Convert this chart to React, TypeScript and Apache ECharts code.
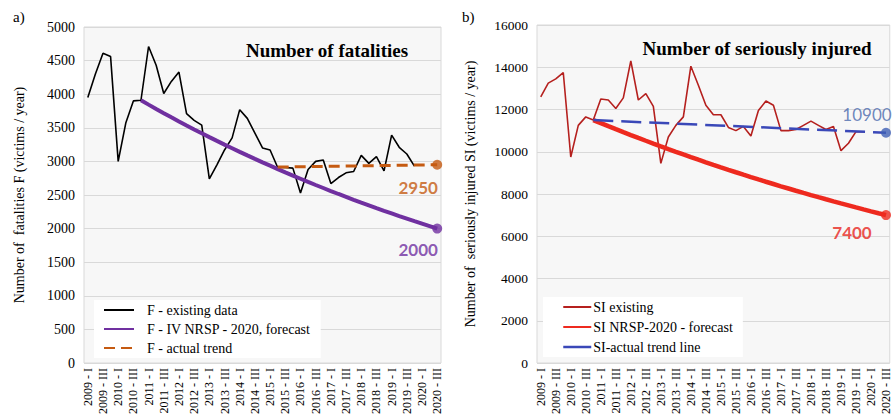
import { useEffect, useRef } from "react";
import * as echarts from "echarts";

const CATEGORIES = [
  "2009 - I", "2009 - II", "2009 - III", "2009 - IV",
  "2010 - I", "2010 - II", "2010 - III", "2010 - IV",
  "2011 - I", "2011 - II", "2011 - III", "2011 - IV",
  "2012 - I", "2012 - II", "2012 - III", "2012 - IV",
  "2013 - I", "2013 - II", "2013 - III", "2013 - IV",
  "2014 - I", "2014 - II", "2014 - III", "2014 - IV",
  "2015 - I", "2015 - II", "2015 - III", "2015 - IV",
  "2016 - I", "2016 - II", "2016 - III", "2016 - IV",
  "2017 - I", "2017 - II", "2017 - III", "2017 - IV",
  "2018 - I", "2018 - II", "2018 - III", "2018 - IV",
  "2019 - I", "2019 - II", "2019 - III", "2019 - IV",
  "2020 - I", "2020 - II", "2020 - III",
];

// Fatalities (from 2009 - I)
const F_EXISTING = [
  3950, 4300, 4610, 4560, 3000, 3570, 3900, 3910,
  4710, 4430, 4010, 4190, 4330, 3710, 3610, 3540,
  2740, 2950, 3170, 3350, 3770, 3640, 3420, 3200,
  3170, 2910, 2910, 2900, 2530, 2880, 3000, 3020,
  2670, 2760, 2830, 2850, 3090, 2970, 3070, 2860,
  3390, 3210, 3110, 2930,
];
// Forecast (from 2010 - IV)
const F_FORECAST_START = 7;
const F_FORECAST = [
  3910, 3845, 3781, 3718, 3656, 3595, 3535, 3476, 3418, 3361,
  3305, 3250, 3196, 3142, 3089, 3037, 2986, 2936, 2886, 2837,
  2789, 2742, 2695, 2649, 2604, 2559, 2515, 2472, 2429, 2387,
  2346, 2305, 2265, 2226, 2187, 2149, 2111, 2074, 2037, 2000,
];
const F_TREND = [["2015 - II", 2915], ["2020 - III", 2950]];
const F_END_FORECAST = [["2020 - III", 2000]];
const F_END_TREND = [["2020 - III", 2950]];
const F_TICKS = [0, 500, 1000, 1500, 2000, 2500, 3000, 3500, 4000, 4500, 5000];

// Seriously injured (from 2009 - I)
const SI_EXISTING = [
  12600, 13250, 13450, 13750, 9750, 11250, 11650, 11500,
  12500, 12450, 12050, 12550, 14300, 12450, 12750, 12150,
  9450, 10700, 11250, 11650, 14050, 13150, 12200, 11750,
  11750, 11150, 11000, 11200, 10750, 11950, 12400, 12200,
  11000, 11000, 11050, 11250, 11450, 11250, 11050, 11200,
  10050, 10400, 10950, 10950,
];
const SI_FORECAST_START = 7;
const SI_FORECAST = [
  11500, 11355, 11211, 11069, 10929, 10791, 10654, 10520, 10387, 10255,
  10125, 9997, 9871, 9746, 9623, 9501, 9381, 9262, 9145, 9029,
  8915, 8802, 8691, 8581, 8473, 8365, 8260, 8155, 8052, 7950,
  7849, 7750, 7652, 7555, 7460, 7365, 7272, 7180, 7089, 7000,
];
const SI_TREND = [["2010 - IV", 11500], ["2020 - III", 10900]];
const SI_END_FORECAST = [["2020 - III", 7000]];
const SI_END_TREND = [["2020 - III", 10900]];
const SI_TICKS = [0, 2000, 4000, 6000, 8000, 10000, 12000, 14000, 16000];

const F_AXIS_NAME = "Number of  fatalities F (victims / year)";
const SI_AXIS_NAME = "Number of  seriously injured SI (victims / year)";

const SERIF = "Liberation Serif";
const NUMFONT = "Lato";

const pad = (start: number, arr: number[]) =>
  (Array(start).fill(null) as (number | null)[]).concat(arr);

export default function App() {
  const ref = useRef<HTMLDivElement>(null);
  useEffect(() => {
    const chart = echarts.init(ref.current!, null, { renderer: "svg" });
    const xAxisBase = (gridIndex: number) => ({
      type: "category",
      gridIndex,
      data: CATEGORIES,
      boundaryGap: true,
      axisLine: { show: false },
      axisTick: { show: false },
      axisLabel: {
        rotate: 90,
        interval: 1,
        fontFamily: SERIF,
        fontSize: 12,
        color: "#000",
        margin: 5,
      },
      splitLine: { show: false },
    });
    const yAxisBase = (gridIndex: number, ticks: number[], name: string, gap: number, fs: number) => ({
      type: "value",
      gridIndex,
      min: ticks[0],
      max: ticks[ticks.length - 1],
      interval: ticks[1] - ticks[0],
      name,
      nameLocation: "middle",
      nameGap: gap,
      nameTextStyle: { fontFamily: SERIF, fontSize: 14, color: "#000" },
      axisLine: { show: false },
      axisTick: { show: false },
      axisLabel: {
        fontFamily: SERIF, fontSize: fs, color: "#000", margin: 9,
        formatter: (v: number) => String(v),
      },
      splitLine: { lineStyle: { color: "#d9d9d9", width: 1 } },
    });
    const option: any = {
      animation: false,
      backgroundColor: "#fff",
      textStyle: { fontFamily: SERIF },
      grid: [
        { left: 84, top: 27, width: 357, height: 336, show: true, backgroundColor: "#f7f7f7", borderColor: "#d9d9d9", borderWidth: 1 },
        { left: 537, top: 25, width: 353, height: 338, show: true, backgroundColor: "#f7f7f7", borderColor: "#d9d9d9", borderWidth: 1 },
      ],
      xAxis: [xAxisBase(0), xAxisBase(1)],
      yAxis: [
        yAxisBase(0, F_TICKS, F_AXIS_NAME, 58, 14),
        yAxisBase(1, SI_TICKS, SI_AXIS_NAME, 60, 13.5),
      ],
      legend: [
        {
          orient: "vertical",
          left: 94,
          top: 300,
          itemWidth: 30,
          itemHeight: 14,
          itemGap: 5,
          padding: [3, 10, 3, 9],
          backgroundColor: "#fff",
          itemStyle: { opacity: 0 },
          textStyle: { fontFamily: SERIF, fontSize: 14, color: "#000", padding: [0, 0, 0, 8] },
          data: ["F - existing data", "F - IV NRSP - 2020, forecast", "F - actual trend"],
        },
        {
          orient: "vertical",
          left: 543,
          top: 297,
          itemWidth: 28,
          itemHeight: 14,
          itemGap: 6,
          padding: [3, 10, 3, 19],
          backgroundColor: "#fff",
          itemStyle: { opacity: 0 },
          textStyle: { fontFamily: SERIF, fontSize: 14, color: "#000", padding: [0, 0, 0, -3] },
          data: [
            "SI existing",
            "SI NRSP-2020 - forecast",
            { name: "SI-actual trend line", lineStyle: { type: "solid", width: 2.5 } },
          ],
        },
      ],
      graphic: [
        { type: "text", x: 13, y: 9, style: { text: "a)", fontFamily: SERIF, fontSize: 15, fill: "#000" } },
        { type: "text", x: 462, y: 9, style: { text: "b)", fontFamily: SERIF, fontSize: 15, fill: "#000" } },
        {
          type: "text", x: 327, y: 50,
          style: { text: "Number of fatalities", fontFamily: SERIF, fontWeight: "bold", fontSize: 19, fill: "#000", align: "center", verticalAlign: "middle" },
        },
        {
          type: "text", x: 757, y: 48,
          style: { text: "Number of seriously injured", fontFamily: SERIF, fontWeight: "bold", fontSize: 19, fill: "#000", align: "center", verticalAlign: "middle" },
        },
      ],
      series: [
        {
          name: "F - existing data", type: "line", xAxisIndex: 0, yAxisIndex: 0,
          data: F_EXISTING, symbol: "none", lineStyle: { color: "#000", width: 1.6 }, itemStyle: { color: "#000" }, z: 3,
        },
        {
          name: "F - IV NRSP - 2020, forecast", type: "line", xAxisIndex: 0, yAxisIndex: 0,
          data: pad(F_FORECAST_START, F_FORECAST), symbol: "none",
          lineStyle: { color: "#7030a0", width: 4 }, itemStyle: { color: "#7030a0" }, z: 4,
        },
        {
          name: "F - actual trend", type: "line", xAxisIndex: 0, yAxisIndex: 0,
          data: F_TREND, symbol: "none",
          lineStyle: { color: "#c55a11", width: 3, type: [11, 6] }, itemStyle: { color: "#c55a11" }, z: 4,
        },
        {
          type: "scatter", xAxisIndex: 0, yAxisIndex: 0, data: F_END_FORECAST, symbolSize: 10,
          itemStyle: { color: "#7030a0" }, z: 5,
          label: { show: true, formatter: "2000", position: "inside", offset: [-19, 21], fontFamily: NUMFONT, fontWeight: "bold", fontSize: 17, color: "#7030a0" },
        },
        {
          type: "scatter", xAxisIndex: 0, yAxisIndex: 0, data: F_END_TREND, symbolSize: 10,
          itemStyle: { color: "#c55a11" }, z: 5,
          label: { show: true, formatter: "2950", position: "inside", offset: [-19, 23], fontFamily: NUMFONT, fontWeight: "bold", fontSize: 17, color: "#c55a11" },
        },
        {
          name: "SI existing", type: "line", xAxisIndex: 1, yAxisIndex: 1,
          data: SI_EXISTING, symbol: "none", lineStyle: { color: "#b5201e", width: 1.6 }, itemStyle: { color: "#b5201e" }, z: 3,
        },
        {
          name: "SI NRSP-2020 - forecast", type: "line", xAxisIndex: 1, yAxisIndex: 1,
          data: pad(SI_FORECAST_START, SI_FORECAST), symbol: "none",
          lineStyle: { color: "#ee2a1f", width: 4.5 }, itemStyle: { color: "#ee2a1f" }, z: 4,
        },
        {
          name: "SI-actual trend line", type: "line", xAxisIndex: 1, yAxisIndex: 1,
          data: SI_TREND, symbol: "none",
          lineStyle: { color: "#3a48b8", width: 2.5, type: [20, 8] }, itemStyle: { color: "#3a48b8" }, z: 5,
        },
        {
          type: "scatter", xAxisIndex: 1, yAxisIndex: 1, data: SI_END_FORECAST, symbolSize: 10,
          itemStyle: { color: "#ee2a1f" }, z: 6,
          label: { show: true, formatter: "7400", position: "inside", offset: [-34, 17], fontFamily: NUMFONT, fontWeight: "bold", fontSize: 17, color: "#e8261e" },
        },
        {
          type: "scatter", xAxisIndex: 1, yAxisIndex: 1, data: SI_END_TREND, symbolSize: 10,
          itemStyle: { color: "#3f5fb4" }, z: 6,
          label: { show: true, formatter: "10900", position: "inside", offset: [-19, -18], fontFamily: NUMFONT, fontSize: 17, color: "#4a69ad" },
        },
      ],
    };
    chart.setOption(option);
    return () => chart.dispose();
  }, []);
  return (
    <div
      ref={ref}
      style={{ position: "fixed", left: 0, top: 0, width: 892, height: 417, background: "#fff" }}
    />
  );
}
